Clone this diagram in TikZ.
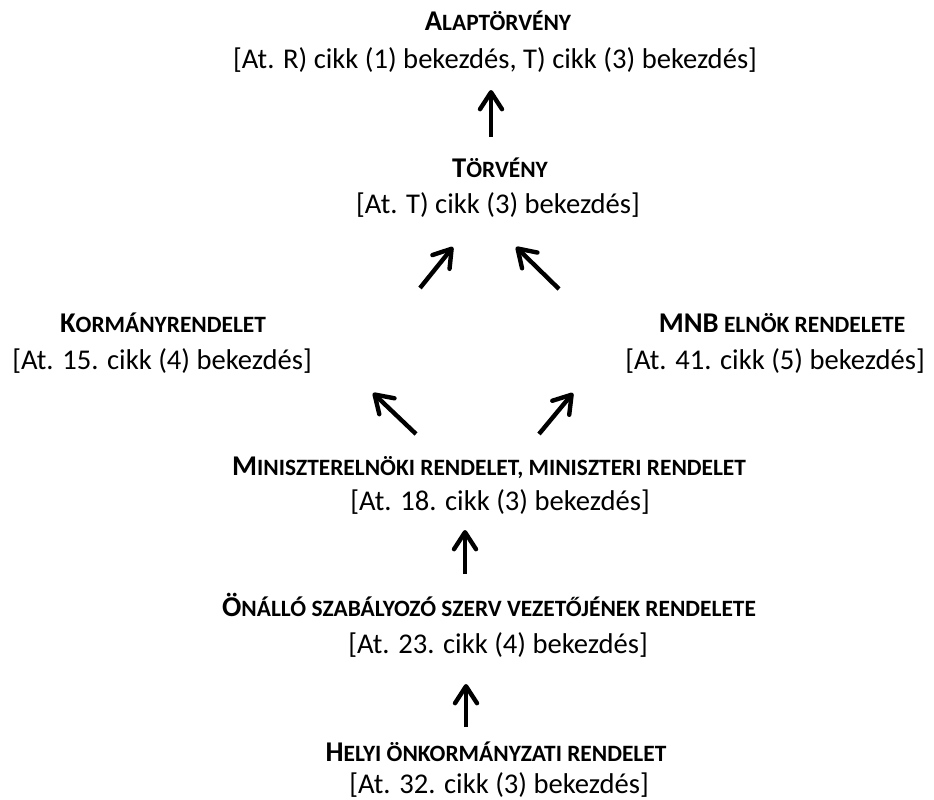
\documentclass[tikz,border=0pt]{standalone}
\usepackage{fontspec}
\setmainfont{Carlito}
\usetikzlibrary{arrows.meta}
\newcommand\smc[1]{{\fontsize{23.4}{27}\selectfont #1}}
\tikzset{
  ttl/.style={font=\fontsize{28.6}{34}\selectfont\bfseries, anchor=base, inner sep=0pt},
  refl/.style={font=\fontsize{28.6}{34}\selectfont, anchor=base, inner sep=0pt},
  arr/.style={line width=4.4pt, -{Straight Barb[length=17pt,width=22pt,round]}}
}
\begin{document}
\begin{tikzpicture}[x=1pt,y=-1pt]
\useasboundingbox (0,0) rectangle (934,800);
\node[ttl]  (alapT) at (498,31)  {A\smc{LAPTÖRVÉNY}};
\node[refl] (alapR) at (495,68)  {[At. R) cikk (1) bekezdés, T) cikk (3) bekezdés]};
\node[ttl]  (torvT) at (500,177) {T\smc{ÖRVÉNY}};
\node[refl] (torvR) at (498,213) {[At. T) cikk (3) bekezdés]};
\node[ttl]  (kormT) at (163,332) {K\smc{ORMÁNYRENDELET}};
\node[refl] (kormR) at (162,369) {[At. 15. cikk (4) bekezdés]};
\node[ttl]  (mnbT)  at (782,332) {MNB\smc{ ELNÖK RENDELETE}};
\node[refl] (mnbR)  at (775,369) {[At. 41. cikk (5) bekezdés]};
\node[ttl]  (minT)  at (489,475) {M\smc{INISZTERELNÖKI RENDELET, MINISZTERI RENDELET}};
\node[refl] (minR)  at (500,510) {[At. 18. cikk (3) bekezdés]};
\node[ttl]  (onT)   at (489,616) {Ö\smc{NÁLLÓ SZABÁLYOZÓ SZERV VEZETŐJÉNEK RENDELETE}};
\node[refl] (onR)   at (498,653) {[At. 23. cikk (4) bekezdés]};
\node[ttl]  (helT)  at (496,761) {H\smc{ELYI ÖNKORMÁNYZATI RENDELET}};
\node[refl] (helR)  at (499,793) {[At. 32. cikk (3) bekezdés]};
% arrow end points
\coordinate (a1t) at (491,137); \coordinate (a1h) at (491,90);
\coordinate (a2t) at (420,288); \coordinate (a2h) at (453,247);
\coordinate (a3t) at (559,289); \coordinate (a3h) at (516,247);
\coordinate (a4t) at (416,434); \coordinate (a4h) at (373,393);
\coordinate (a5t) at (539,434); \coordinate (a5h) at (573,393);
\coordinate (a6t) at (465,574); \coordinate (a6h) at (465,530);
\coordinate (a7t) at (466,727); \coordinate (a7h) at (466,684);
\draw[arr] (a1t) -- (a1h);
\draw[arr] (a2t) -- (a2h);
\draw[arr] (a3t) -- (a3h);
\draw[arr] (a4t) -- (a4h);
\draw[arr] (a5t) -- (a5h);
\draw[arr] (a6t) -- (a6h);
\draw[arr] (a7t) -- (a7h);
\end{tikzpicture}
\end{document}
